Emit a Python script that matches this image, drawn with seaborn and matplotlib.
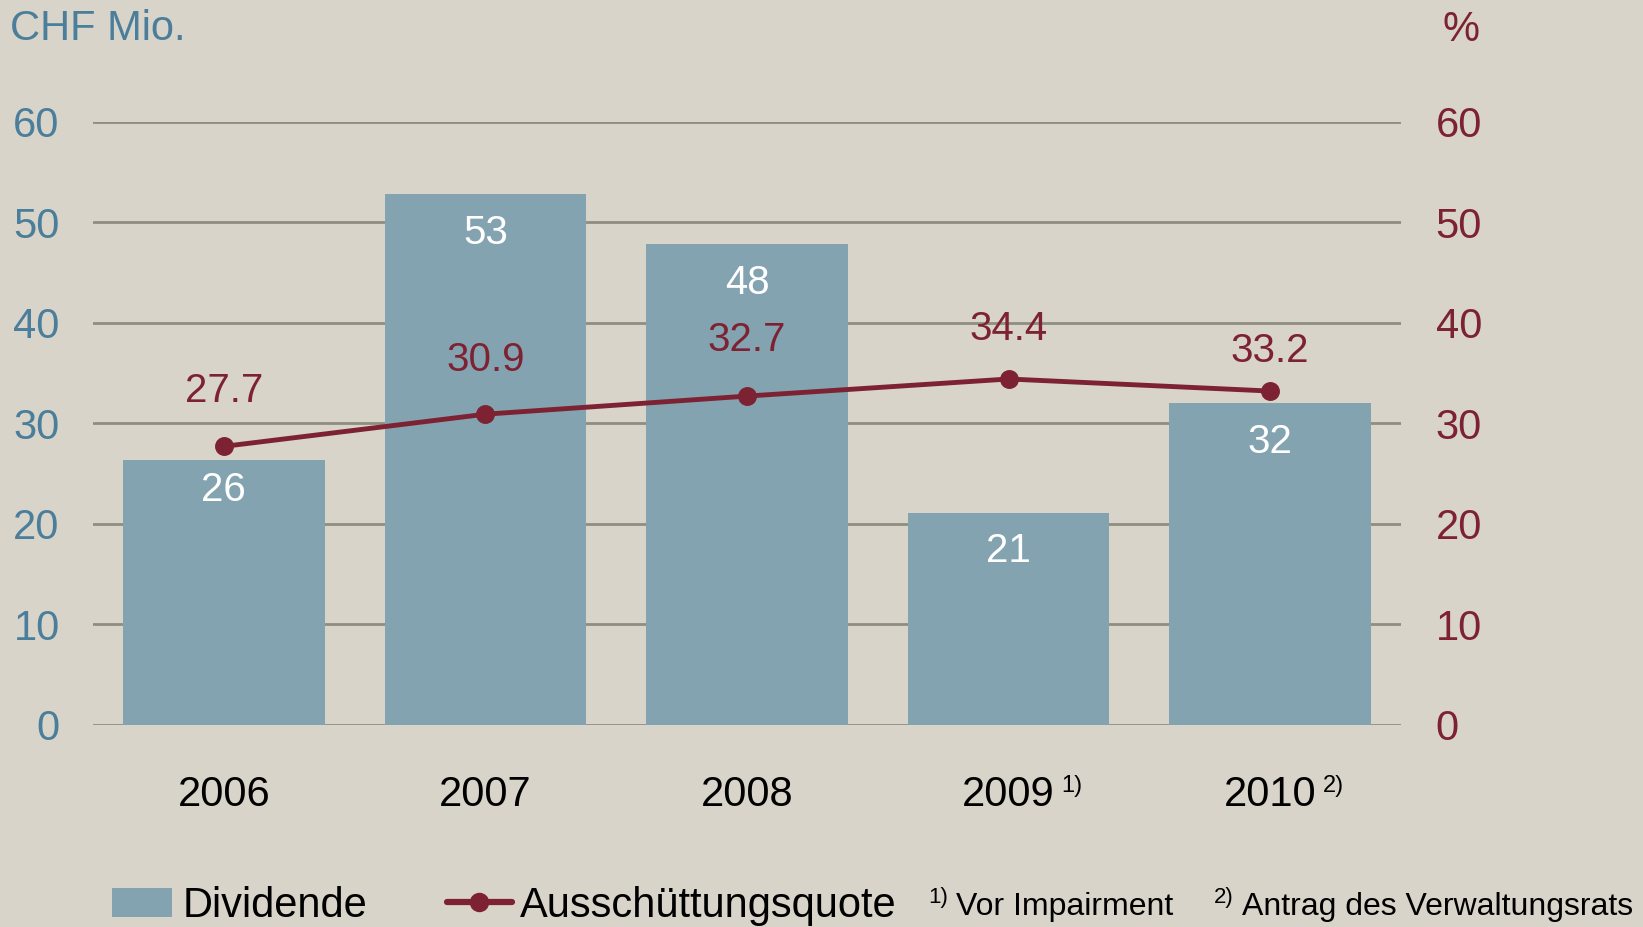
import matplotlib
matplotlib.use("Agg")
import matplotlib.pyplot as plt
import seaborn as sns
import pandas as pd
from matplotlib.patches import Patch
from matplotlib.lines import Line2D
from matplotlib import font_manager

years = ["2006", "2007", "2008", "2009", "2010"]
footnote_marks = ["", "", "", "1)", "2)"]
dividende = [26.3, 52.8, 47.8, 21.1, 32.0]
quote = [27.7, 30.9, 32.7, 34.4, 33.2]
yticks = [0, 10, 20, 30, 40, 50, 60]
legend_labels = ["Dividende", "Ausschüttungsquote"]
footnotes = [("1)", "Vor Impairment"), ("2)", "Antrag des Verwaltungsrats")]

BG = "#D8D4C9"
BAR = "#84A3B1"
RED = "#7D2233"
BLUE = "#4A7E9A"
GRID = "#8E8E80"

names = {f.name for f in font_manager.fontManager.ttflist}
MAIN = "Liberation Sans" if "Liberation Sans" in names else "DejaVu Sans"

sns.set_theme(style="white")
plt.rcParams["font.family"] = [MAIN, "DejaVu Sans"]
plt.rcParams["text.color"] = "black"

df = pd.DataFrame({"Jahr": years, "Dividende": dividende, "Quote": quote})

fig = plt.figure(figsize=(16.43, 9.27), dpi=100, facecolor=BG)
ax = fig.add_axes([93 / 1643, 1 - 725 / 927, (1401 - 93) / 1643, (725 - 121.5) / 927])
ax.set_facecolor(BG)

sns.barplot(data=df, x="Jahr", y="Dividende", color=BAR, saturation=1, width=0.77,
            ax=ax, zorder=2, linewidth=0, edgecolor="none")
ax.set_ylim(0, 60)
ax.set_xlim(-0.5, 4.5)
ax.set_yticks(yticks)
for v in yticks:
    ax.axhline(v, color=GRID, lw=2, zorder=1)
for s in ax.spines.values():
    s.set_visible(False)
ax.set_xlabel("")
ax.set_ylabel("")
ax.tick_params(axis="y", length=0, pad=24, labelsize=30, labelcolor=BLUE)
ax.tick_params(axis="x", length=0, pad=36, labelsize=30, labelcolor="black")

ax2 = ax.twinx()
sns.pointplot(data=df, x="Jahr", y="Quote", color=RED, markers="o", ax=ax2,
              markersize=11, linewidth=3.5, errorbar=None)
ax2.set_ylim(0, 60)
ax2.set_xlim(-0.5, 4.5)
ax2.set_yticks(yticks)
for s in ax2.spines.values():
    s.set_visible(False)
ax2.set_ylabel("")
ax2.tick_params(axis="y", length=0, pad=25, labelsize=30, labelcolor=RED)

# value labels
bar_off = [2.95, 3.85, 3.9, 3.8, 3.85]
line_off = [5.5, 5.4, 5.6, 5.0, 4.0]
for i, (d, q) in enumerate(zip(dividende, quote)):
    ax.text(i, d - bar_off[i], f"{d:.0f}", color="white", fontsize=29,
            ha="center", va="center", zorder=5)
    ax2.text(i, q + line_off[i], f"{q:.1f}", color=RED, fontsize=29,
             ha="center", va="center", zorder=5)

# footnote superscripts on x labels
for i, m in enumerate(footnote_marks):
    if m:
        ax.annotate(m, xy=(i + 0.2, 0), xycoords=("data", "axes fraction"),
                    xytext=(0, -52), textcoords="offset points",
                    fontsize=17, ha="left", va="bottom", color="black")

fig.text(10 / 1643, 1 - 29 / 927, "CHF Mio.", color=BLUE, fontsize=30, ha="left", va="center")
fig.text(1461 / 1643, 1 - 30 / 927, "%", color=RED, fontsize=30, ha="center", va="center")

# legend entries placed individually
leg_common = dict(loc="center left", frameon=False, borderpad=0, borderaxespad=0,
                  prop={"size": 30}, labelcolor="black")
fig.legend([Patch(facecolor=BAR, edgecolor="none")], [legend_labels[0]],
           bbox_to_anchor=(112 / 1643, 1 - 906 / 927),
           handlelength=1.45, handleheight=0.7, handletextpad=0.25, **leg_common)
fig.legend([Line2D([0], [0], color=RED, lw=4.5, marker="o", markersize=13)], [legend_labels[1]],
           bbox_to_anchor=(447 / 1643, 1 - 906 / 927),
           handlelength=1.55, handletextpad=0.2, **leg_common)

for (mark, txt), x0 in zip(footnotes, [928, 1214]):
    fig.text(x0 / 1643, 1 - 898 / 927, mark, fontsize=16, ha="left", va="center", color="black")
    fig.text((x0 + 28) / 1643, 1 - 907 / 927, txt, fontsize=23, ha="left", va="center", color="black")

fig.savefig("out.png", dpi=100, facecolor=BG)
